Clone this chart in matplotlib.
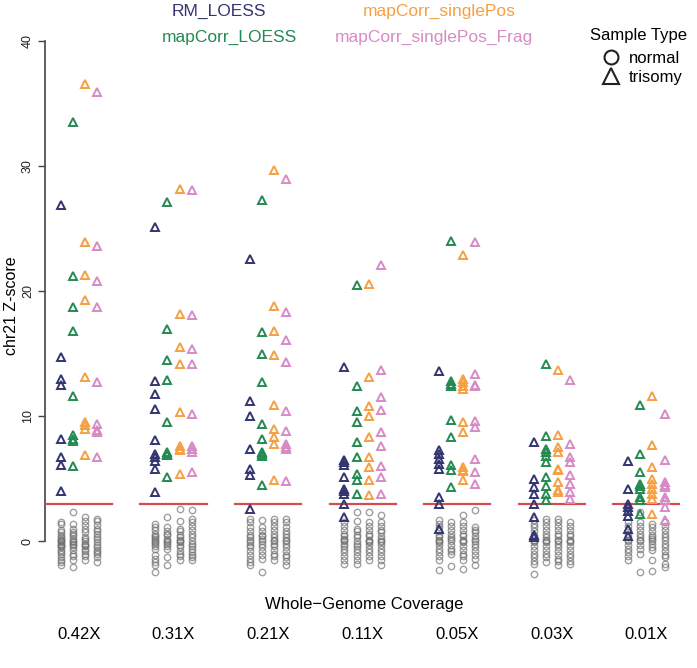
import matplotlib
matplotlib.use("Agg")
import matplotlib.pyplot as plt
from matplotlib.lines import Line2D

plt.rcParams['font.family'] = ['Liberation Sans', 'DejaVu Sans']

# coverage groups and methods
coverage = ["0.42X", "0.31X", "0.21X", "0.11X", "0.05X", "0.03X", "0.01X"]
methods = ["RM_LOESS", "mapCorr_LOESS", "mapCorr_singlePos", "mapCorr_singlePos_Frag"]
method_colors = ["#333570", "#238a52", "#f5a043", "#d78bc4"]
threshold = 3

# trisomy z-scores, one list per coverage group
rm_tri = [
    [26.9, 14.7, 13.0, 12.5, 8.2, 6.7, 6.1, 4.0],
    [25.1, 12.8, 11.8, 10.6, 8.1, 7.0, 6.7, 6.4, 5.8, 3.9],
    [22.6, 11.2, 10.0, 7.4, 5.8, 5.3, 2.6],
    [13.9, 6.5, 6.3, 6.1, 5.1, 4.2, 4.0, 3.8, 3.0, 1.9],
    [13.6, 7.3, 7.0, 6.6, 6.2, 5.8, 3.5, 3.0, 1.0],
    [7.9, 5.0, 4.3, 3.8, 3.0, 1.9, 0.5, 0.3],
    [6.4, 4.2, 3.0, 2.7, 2.4, 2.0, 1.0, 0.4],
]
lo_tri = [
    [33.5, 21.2, 18.7, 16.8, 11.6, 8.5, 8.2, 8.0, 6.0],
    [27.1, 17.0, 14.5, 12.9, 9.5, 7.1, 7.0, 6.9, 5.1],
    [27.3, 16.7, 15.0, 12.7, 9.4, 8.2, 7.1, 7.0, 6.8, 4.5],
    [20.5, 12.4, 10.4, 9.5, 7.9, 6.7, 5.4, 4.9, 3.8],
    [24.0, 12.8, 12.6, 12.4, 9.7, 8.3, 6.1, 5.7, 4.3],
    [14.2, 8.4, 7.4, 7.1, 6.8, 6.3, 5.1, 4.4, 3.8, 3.3],
    [10.9, 7.0, 5.5, 4.6, 4.4, 4.2, 3.5, 3.3, 2.2],
]
sp_tri = [
    [36.6, 23.9, 21.3, 19.3, 13.1, 9.5, 9.3, 9.0, 6.9],
    [28.2, 18.2, 15.5, 14.2, 10.3, 7.6, 7.4, 7.3, 5.4],
    [29.7, 18.8, 16.8, 14.9, 10.9, 9.0, 8.3, 7.8, 4.9],
    [20.6, 13.1, 10.8, 10.0, 8.3, 6.7, 5.9, 4.9, 3.7],
    [22.9, 13.0, 12.7, 12.4, 12.2, 9.5, 8.7, 5.9, 5.7, 5.6, 4.9],
    [13.7, 8.5, 7.5, 7.1, 5.8, 5.7, 4.7, 4.1, 3.9],
    [11.6, 7.7, 5.9, 5.0, 4.6, 4.2, 3.8, 3.4, 2.2],
]
fr_tri = [
    [35.9, 23.6, 20.8, 18.7, 12.7, 9.4, 8.9, 8.7, 6.7],
    [28.1, 18.1, 15.4, 14.2, 10.2, 7.6, 7.4, 7.1, 5.5],
    [29.0, 18.3, 16.1, 14.3, 10.4, 8.8, 7.8, 7.5, 7.4, 4.8],
    [22.1, 13.7, 11.5, 10.5, 8.7, 7.6, 6.0, 5.1, 3.8],
    [23.9, 13.4, 12.5, 12.4, 9.6, 9.1, 6.6, 5.5, 4.6],
    [12.9, 7.8, 6.7, 6.3, 5.3, 4.6, 3.9, 3.4],
    [10.2, 6.5, 4.7, 4.5, 4.3, 3.5, 3.3, 2.7, 1.7],
]

# normal-sample z-scores, one list per coverage group
rm_norm = [
    [1.5, 1.4, 0.9, 0.7, 0.5, 0.3, 0.2, 0.1, 0.0, -0.1, -0.2, -0.3, -0.4, -0.5, -0.7, -0.9, -1.0, -1.3, -1.5, -1.7, -1.9],
    [1.4, 1.1, 0.9, 0.6, 0.4, 0.3, 0.2, 0.0, -0.1, -0.2, -0.4, -0.6, -1.1, -1.4, -1.7, -1.9, -2.5],
    [1.8, 1.5, 1.1, 0.8, 0.5, 0.3, 0.1, -0.1, -0.3, -0.5, -0.8, -1.1, -1.4, -1.7, -1.9],
    [1.5, 1.2, 0.9, 0.6, 0.4, 0.2, 0.1, 0.0, -0.2, -0.4, -0.6, -0.9, -1.2, -1.5, -1.8],
    [1.7, 1.4, 1.1, 0.8, 0.5, 0.3, 0.1, 0.0, -0.1, -0.3, -0.6, -0.9, -1.2, -1.5, -2.3],
    [1.7, 1.4, 1.1, 0.8, 0.5, 0.3, 0.1, 0.0, -0.1, -0.4, -0.7, -1.0, -1.3, -1.6, -1.8, -2.6],
    [1.5, 1.2, 0.9, 0.6, 0.3, 0.1, 0.0, -0.3, -0.6, -0.9, -1.2, -1.5],
]
lo_norm = [
    [2.3, 1.4, 1.0, 0.7, 0.6, 0.4, 0.2, 0.0, -0.1, -0.2, -0.3, -0.5, -0.7, -1.0, -1.2, -1.5, -2.1],
    [1.9, 1.1, 0.8, 0.6, 0.5, 0.2, 0.0, -0.1, -0.2, -0.4, -0.6, -1.3, -1.9],
    [1.7, 1.1, 0.8, 0.5, 0.4, 0.2, 0.0, -0.2, -0.5, -0.8, -1.1, -1.4, -2.5],
    [2.3, 1.6, 1.0, 0.8, 0.5, 0.3, 0.0, -0.2, -0.4, -0.6, -0.9, -1.2, -1.5, -1.8],
    [1.5, 1.2, 0.9, 0.6, 0.3, 0.2, 0.0, -0.3, -0.6, -0.8, -1.0, -2.0],
    [1.8, 1.5, 1.2, 0.9, 0.6, 0.3, 0.1, 0.0, -0.1, -0.4, -0.7, -1.0, -1.3, -1.7],
    [2.3, 1.5, 1.2, 0.9, 0.6, 0.3, 0.1, 0.0, -0.3, -0.6, -1.0, -2.5],
]
sp_norm = [
    [1.9, 1.6, 1.3, 1.0, 0.7, 0.3, 0.2, 0.0, -0.2, -0.3, -0.4, -0.6, -0.8, -1.0, -1.2, -1.5],
    [2.6, 1.6, 1.0, 0.8, 0.5, 0.3, 0.1, 0.0, -0.1, -0.3, -0.5, -0.8, -1.0, -1.2, -1.5],
    [1.8, 1.5, 1.2, 0.9, 0.6, 0.3, 0.1, 0.0, -0.2, -0.4, -0.7, -1.0, -1.2, -1.5],
    [2.3, 1.5, 1.2, 0.9, 0.6, 0.4, 0.1, 0.0, -0.1, -0.3, -0.6, -0.9, -1.2, -1.5],
    [2.1, 1.5, 1.2, 0.9, 0.6, 0.4, 0.1, 0.0, -0.1, -0.4, -0.7, -1.0, -1.2, -1.5, -2.2],
    [1.8, 1.5, 1.2, 0.9, 0.6, 0.4, 0.1, 0.0, -0.2, -0.5, -0.8, -1.1, -1.4, -1.6, -1.9],
    [1.4, 1.1, 0.8, 0.5, 0.3, 0.2, 0.0, -0.2, -0.5, -0.7, -1.5, -2.4],
]
fr_norm = [
    [1.8, 1.6, 1.3, 1.0, 0.8, 0.6, 0.3, 0.2, -0.1, -0.3, -0.5, -0.7, -0.9, -1.0, -1.3, -1.7],
    [2.5, 1.8, 1.5, 1.2, 0.9, 0.6, 0.3, 0.0, -0.2, -0.4, -0.6, -0.9, -1.1, -1.3, -1.5],
    [1.8, 1.5, 1.1, 0.8, 0.6, 0.3, 0.1, 0.0, -0.2, -0.5, -0.8, -1.1, -1.3, -1.6, -1.9],
    [2.1, 1.5, 1.2, 0.9, 0.7, 0.4, 0.2, 0.0, -0.1, -0.3, -0.6, -0.9, -1.2, -1.5, -1.9],
    [2.5, 1.1, 0.9, 0.7, 0.4, 0.2, 0.0, -0.2, -0.5, -0.8, -1.1, -1.4, -1.9],
    [1.5, 1.2, 0.9, 0.6, 0.4, 0.1, 0.0, -0.1, -0.4, -0.7, -1.0, -1.3, -1.6, -1.8],
    [1.5, 1.2, 0.9, 0.6, 0.3, 0.1, -0.2, -0.5, -0.8, -1.1, -1.3, -1.8, -2.1],
]

tri_data = [rm_tri, lo_tri, sp_tri, fr_tri]
norm_data = [rm_norm, lo_norm, sp_norm, fr_norm]

fig = plt.figure(figsize=(6.97, 6.68), dpi=100)
# axes placed so the y axis runs from pixel 41 (40) to 541 (0)
ax = fig.add_axes([45 / 697, 1 - 581 / 668, 635 / 697, 551 / 668])

col_step = 0.128
for g in range(len(coverage)):
    for m in range(len(methods)):
        x = g + (m - 1.5) * col_step
        vals = norm_data[m][g]
        ax.plot([x] * len(vals), vals, linestyle='none', marker='o', markersize=4.6,
                markerfacecolor='none', markeredgecolor='#6e6e6e', markeredgewidth=1.0,
                alpha=0.65, zorder=2)
    ax.plot([g - 0.35, g + 0.35], [threshold, threshold], color='#d64a52', lw=1.6, zorder=3)
    for m in range(len(methods)):
        x = g + (m - 1.5) * col_step
        vals = tri_data[m][g]
        ax.plot([x] * len(vals), vals, linestyle='none', marker='^', markersize=5.2,
                markerfacecolor='none', markeredgecolor=method_colors[m], markeredgewidth=1.4,
                zorder=4)

ax.set_xlim(-0.358, 6.355)
ax.set_ylim(-3.2, 40.9)
for side in ['top', 'right', 'bottom']:
    ax.spines[side].set_visible(False)
ax.spines['left'].set_bounds(0, 40)
ax.spines['left'].set_color('#444444')
ax.spines['left'].set_linewidth(1.2)
ax.set_yticks([0, 10, 20, 30, 40])
ax.set_yticklabels(['0', '10', '20', '30', '40'], rotation=90, va='center', fontsize=9, color='#222222')
ax.tick_params(axis='y', length=5, width=1.0, color='#444444', pad=3)
ax.set_xticks(range(len(coverage)))
ax.set_xticklabels(coverage, fontsize=12)
ax.tick_params(axis='x', length=0, pad=33)
ax.set_ylabel('chr21 Z-score', fontsize=11.5, labelpad=2)

fig.text(364 / 697, 1 - 605 / 668, 'Whole\u2212Genome Coverage', ha='center', va='center', fontsize=12)

# method names at the top
fig.text(219 / 697, 1 - 11 / 668, methods[0], color=method_colors[0], ha='center', va='center', fontsize=12.5)
fig.text(229 / 697, 1 - 37 / 668, methods[1], color=method_colors[1], ha='center', va='center', fontsize=12.5)
fig.text(439 / 697, 1 - 11 / 668, methods[2], color=method_colors[2], ha='center', va='center', fontsize=12.5)
fig.text(434 / 697, 1 - 37 / 668, methods[3], color=method_colors[3], ha='center', va='center', fontsize=12.5)

# sample type legend
handles = [
    Line2D([], [], linestyle='none', marker='o', markersize=10, markerfacecolor='none',
           markeredgecolor='#222222', markeredgewidth=1.5, label='normal'),
    Line2D([], [], linestyle='none', marker='^', markersize=12, markerfacecolor='none',
           markeredgecolor='#222222', markeredgewidth=1.5, label='trisomy'),
]
leg = fig.legend(handles=handles, title='Sample Type', loc='upper right',
                 bbox_to_anchor=(1.0, 1 - 22 / 668), frameon=False, fontsize=12,
                 title_fontsize=12, handletextpad=0.1, labelspacing=0.25, borderaxespad=0.2)
leg.get_title().set_position((0, 4))

fig.savefig('out.png', dpi=100)
